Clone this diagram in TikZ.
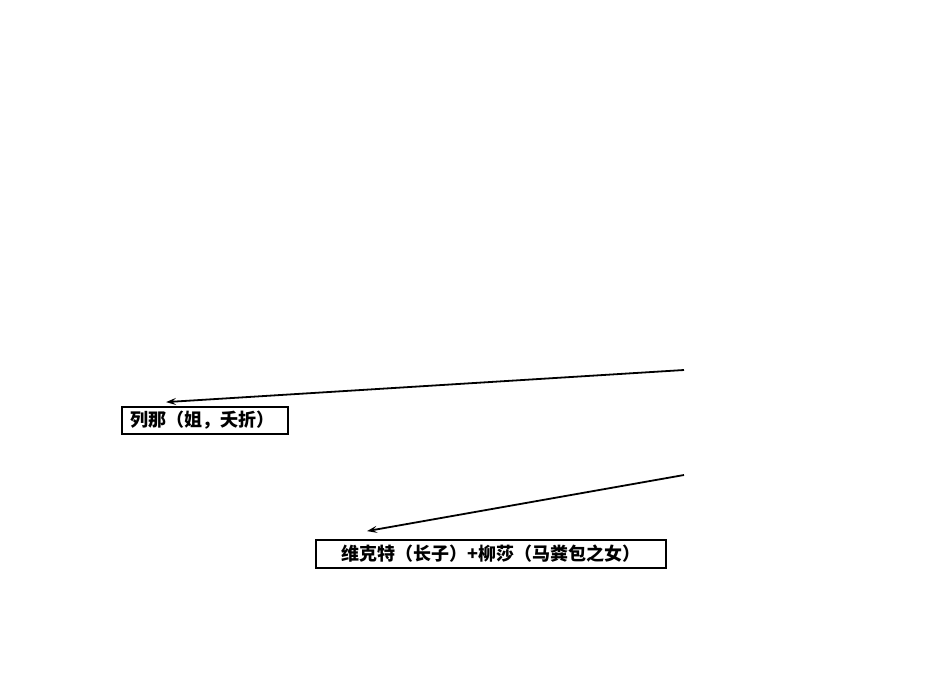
\documentclass[tikz,border=0pt]{standalone}
\usepackage{fontspec}
\newfontfamily\cjk{Noto Sans CJK SC}
\usepackage{tikz}
\usetikzlibrary{arrows.meta}

\begin{document}
\begin{tikzpicture}[x=1pt,y=-1pt]
	\tikzset{box/.style={draw=black, line width=1.8pt, inner sep=0pt, minimum height=27pt, font=\cjk\bfseries\fontsize{18}{18}\selectfont}}
	\tikzset{link/.style={black, line width=1.8pt, -{Stealth[length=10pt,width=7pt,inset=4pt]}}}
	\useasboundingbox (0,0) rectangle (950,672);
	\node [box, minimum width=166pt] (liena) at (205,420.5) {\hspace*{-6pt}列那（姐，夭折）};
	\node [box, minimum width=350pt, minimum height=28pt] (weikete) at (491,554) {维克特（长子）+柳莎（马粪包之女）};
	\coordinate (fromA) at (684,370);
	\coordinate (fromB) at (684,475);
	\draw [link] (fromA) -- ([xshift=-39pt,yshift=4pt]liena.north);
	\draw [link] (fromB) -- ([xshift=-124pt,yshift=8pt]weikete.north);
\end{tikzpicture}
\end{document}
